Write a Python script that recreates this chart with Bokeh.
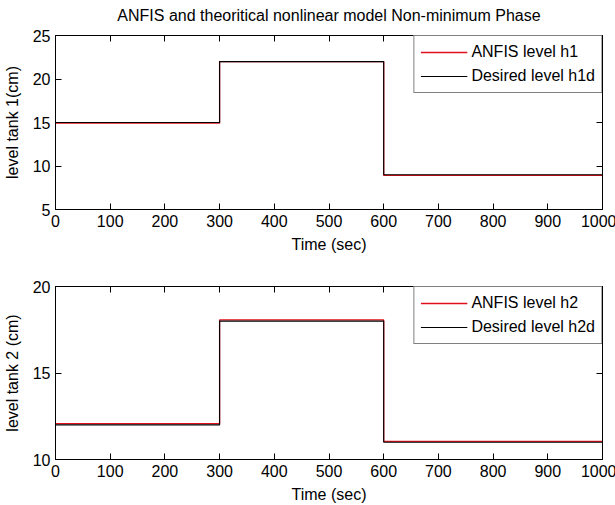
from bokeh.plotting import figure
from bokeh.models import LinearAxis, FixedTicker, Range1d, CustomLabelingPolicy
from bokeh.layouts import column
from bokeh.embed import file_html
from bokeh.resources import INLINE

# Step input schedule (seconds) and tank levels (cm) held over each interval
time_edges = [0, 300, 600, 1000]
h1_desired = [15, 22, 9]
h1_anfis = [14.92, 22.0, 8.92]
h2_desired = [12, 18, 11]
h2_anfis = [12.07, 18.07, 11.05]

x_ticks = [0, 100, 200, 300, 400, 500, 600, 700, 800, 900, 1000]
y1_ticks = [5, 10, 15, 20, 25]
y2_ticks = [10, 15, 20]

TITLE = "ANFIS and theoritical nonlinear model Non-minimum Phase"
FONT = "Liberation Sans"
FS = "16px"
RED = "#e0101c"

# tick marks only (box axes on the top and right sides carry no labels)
NO_LABELS = CustomLabelingPolicy(code="return []")


def style_axis(ax, ticks, show_labels=True):
    ax.ticker = FixedTicker(ticks=ticks)
    ax.minor_tick_line_color = None
    ax.major_tick_in = 6
    ax.major_tick_out = 0
    ax.axis_line_color = "black"
    ax.major_tick_line_color = "black"
    ax.major_label_text_font = FONT
    ax.major_label_text_color = "black"
    ax.axis_label_text_font = FONT
    ax.axis_label_text_font_style = "normal"
    ax.axis_label_text_color = "black"
    ax.axis_label_text_font_size = FS
    if show_labels:
        ax.major_label_text_font_size = FS
    else:
        ax.major_label_text_font_size = "0px"
        ax.major_label_policy = NO_LABELS
        ax.major_label_standoff = 0


def panel(desired, anfis, yr, yticks, ylabel, names, top_border, fh, title=None):
    p = figure(
        width=615,
        height=top_border + fh + 46,
        frame_width=547,
        frame_height=fh,
        min_border_left=54,
        min_border_right=14,
        min_border_top=top_border,
        min_border_bottom=46,
        x_range=Range1d(0, 1000),
        y_range=Range1d(*yr),
        output_backend="svg",
        toolbar_location=None,
    )
    p.grid.visible = False
    p.outline_line_color = "black"
    p.background_fill_color = "white"
    p.border_fill_color = "white"

    xs = time_edges
    p.step(xs, anfis + anfis[-1:], mode="after", line_color=RED,
           line_width=1.3, legend_label=names[0])
    p.step(xs, desired + desired[-1:], mode="after", line_color="black",
           line_width=1.1, legend_label=names[1])

    style_axis(p.xaxis[0], x_ticks)
    p.xaxis[0].axis_label = "Time (sec)"
    p.xaxis[0].major_label_standoff = 5
    p.xaxis[0].axis_label_standoff = 6

    style_axis(p.yaxis[0], yticks)
    p.yaxis[0].axis_label = ylabel
    p.yaxis[0].major_label_standoff = 5
    p.yaxis[0].axis_label_standoff = 9

    # top box edge: tick marks, with the chart heading centred above it
    top = LinearAxis()
    style_axis(top, x_ticks, show_labels=False)
    if title is not None:
        top.axis_label = title
        top.axis_label_standoff = 12
    p.add_layout(top, "above")
    right = LinearAxis()
    style_axis(right, yticks, show_labels=False)
    p.add_layout(right, "right")

    lg = p.legend[0]
    lg.location = "top_right"
    lg.margin = 0
    lg.padding = 6
    lg.spacing = 4
    lg.label_height = 20
    lg.glyph_height = 20
    lg.glyph_width = 47
    lg.label_standoff = 4
    lg.label_text_font = FONT
    lg.label_text_font_size = FS
    lg.label_text_color = "black"
    lg.border_line_color = "black"
    lg.border_line_width = 1
    lg.background_fill_alpha = 1.0
    return p


p1 = panel(h1_desired, h1_anfis, (5, 25), y1_ticks, "level tank 1(cm)",
           ["ANFIS level h1", "Desired level h1d"], 35, 174, TITLE)
p2 = panel(h2_desired, h2_anfis, (10, 20), y2_ticks, "level tank 2 (cm)",
           ["ANFIS level h2", "Desired level h2d"], 31, 173)

layout = column(p1, p2, spacing=0)
open("out.html", "w").write(file_html(layout, INLINE))
